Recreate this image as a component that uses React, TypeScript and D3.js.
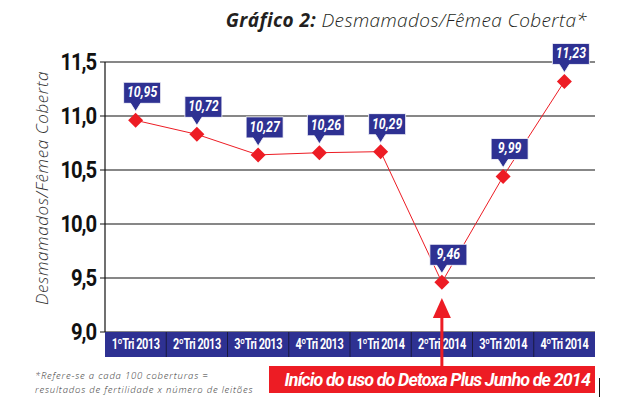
import React from "react";
import * as d3 from "d3";

const categories = ["1ºTri 2013", "2ºTri 2013", "3ºTri 2013", "4ºTri 2013", "1ºTri 2014", "2ºTri 2014", "3ºTri 2014", "4ºTri 2014"];
const plottedValues = [10.96, 10.83, 10.64, 10.66, 10.67, 9.46, 10.44, 11.32];
const valueLabels = ["10,95", "10,72", "10,27", "10,26", "10,29", "9,46", "9,99", "11,23"];
const yTicks = [9.0, 9.5, 10.0, 10.5, 11.0, 11.5];

const NAVY = "#2e3192";
const RED = "#ed1c24";
const COND = "'Roboto', 'DejaVu Sans', sans-serif";

export default function App() {
  const W = 625, H = 419;
  const left = 105, right = 595, top = 62, bottom = 332;
  const x = d3.scaleBand<string>().domain(categories).range([left, right]);
  const y = d3.scaleLinear().domain([9, 11.5]).range([bottom, top]);
  const cx = (i: number) => (x(categories[i]) as number) + x.bandwidth() / 2;
  const line = d3.line<number>().x((_, i) => cx(i)).y((d) => y(d));
  const fmt = (v: number) => v.toFixed(1).replace(".", ",");
  const arrowX = cx(5);

  return (
    <svg width={W} height={H} style={{ position: "absolute", left: 0, top: 0, background: "#fff" }}>
      <rect width={W} height={H} fill="#fff" />
      {/* title */}
      <text x={587} y={27} textAnchor="end" fontFamily="'Open Sans', sans-serif" fontSize={19} fontStyle="italic" fill="#231f20" letterSpacing={0.4}>
        <tspan fontWeight="bold">Gráfico 2:</tspan>
        <tspan fontWeight={300}> Desmamados/Fêmea Coberta*</tspan>
      </text>

      {/* gridlines */}
      {yTicks.map((t) => (
        <g key={t}>
          <line x1={left - 5} x2={right} y1={y(t)} y2={y(t)} stroke="#111" strokeWidth={1.2} />
          <text transform={`translate(96,${y(t) + 8}) scale(0.88,1)`} textAnchor="end" fontFamily={COND} fontWeight="bold" fontSize={23} fill="#111" letterSpacing={-1.2}>
            {fmt(t)}
          </text>
        </g>
      ))}
      <line x1={left} x2={left} y1={top} y2={bottom} stroke="#111" strokeWidth={1.2} />

      {/* y axis title */}
      <text transform={`translate(48,188) rotate(-90)`} textAnchor="middle" fontFamily="'Open Sans', sans-serif" fontStyle="italic" fontSize={17} fill="#333" fontWeight={300} letterSpacing={0.6}>
        Desmamados/Fêmea Coberta
      </text>

      {/* category band */}
      <rect x={left} y={bottom} width={right - left} height={25} fill={NAVY} />
      {categories.map((c, i) => (
        <g key={c}>
          {i > 0 && <line x1={x(c)} x2={x(c)} y1={bottom} y2={bottom + 25} stroke="#1a1a40" strokeWidth={1} />}
          <text transform={`translate(${cx(i)},${bottom + 17}) scale(0.78,1)`} textAnchor="middle" fontFamily={COND} fontWeight="bold" fontSize={14} fill="#fff" letterSpacing={-0.6}>
            {c}
          </text>
        </g>
      ))}

      {/* line */}
      <path d={line(plottedValues) || ""} fill="none" stroke={RED} strokeWidth={1} />

      {/* callouts */}
      {plottedValues.map((v, i) => {
        const px = cx(i), py = y(v);
        const bx = px - 12, bw = 37, bt = py - 38, bb = py - 17;
        return (
          <g key={i}>
            <path d={`M${bx},${bt}H${bx + bw}V${bb}H${px + 5}L${px},${py - 9}L${px - 5},${bb}H${bx}Z`} fill={NAVY} stroke="#fff" strokeWidth={0.8} />
            <text transform={`translate(${bx + bw / 2},${bt + 15}) scale(0.88,1)`} textAnchor="middle" fontFamily={COND} fontWeight="bold" fontStyle="italic" fontSize={14} fill="#fff">
              {valueLabels[i]}
            </text>
          </g>
        );
      })}

      {/* markers */}
      {plottedValues.map((v, i) => {
        const px = cx(i), py = y(v), r = 7.5;
        return <path key={i} d={`M${px},${py - r}L${px + r},${py}L${px},${py + r}L${px - r},${py}Z`} fill={RED} />;
      })}

      {/* arrow */}
      <line x1={arrowX} x2={arrowX} y1={314} y2={367} stroke={RED} strokeWidth={3} />
      <path d={`M${arrowX},298L${arrowX + 9},318L${arrowX - 9},318Z`} fill={RED} />

      {/* red annotation box */}
      <rect x={269} y={366} width={326} height={27} fill={RED} />
      <text transform={`translate(590,386) scale(0.94,1)`} textAnchor="end" fontFamily={COND} fontWeight="bold" fontStyle="italic" fontSize={19} fill="#fff" letterSpacing={-0.9}>
        Início do uso do Detoxa Plus Junho de 2014
      </text>
      <line x1={599.5} x2={599.5} y1={378} y2={397} stroke="#111" strokeWidth={1} />

      {/* footnote */}
      <text fontFamily="'Open Sans', sans-serif" fontStyle="italic" fontWeight={300} fontSize={9.5} fill="#333" letterSpacing={0.8}>
        <tspan x={35} y={379}>*Refere-se a cada 100 coberturas =</tspan>
        <tspan x={35} y={393}>resultados de fertilidade x número de leitões</tspan>
      </text>
    </svg>
  );
}
